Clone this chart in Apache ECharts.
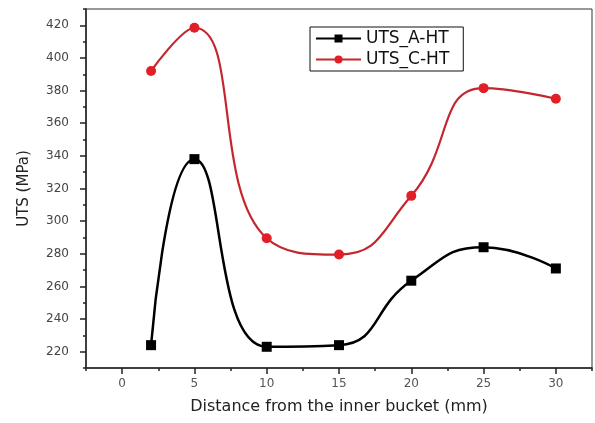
<!DOCTYPE html>
<html>
<head>
<meta charset="utf-8">
<script src="https://cdn.jsdelivr.net/npm/echarts@6/dist/echarts.min.js"></script>
<style>
html,body{margin:0;padding:0;background:#fff;}
#chart{width:595px;height:423px;}
</style>
</head>
<body>
<div id="chart"></div>
<script>
var distances = [2, 5, 10, 15, 20, 25, 30];
var utsA = [224, 338, 223, 224, 263.5, 284, 271];
var utsC = [392, 418.5, 289.5, 279.5, 315.5, 381.5, 375];
var seriesNames = ['UTS_A-HT', 'UTS_C-HT'];
var xMajor = [0, 5, 10, 15, 20, 25, 30];
var xMinor = [-2.5, 2.5, 7.5, 12.5, 17.5, 22.5, 27.5, 32.5];
var yMajor = [220, 240, 260, 280, 300, 320, 340, 360, 380, 400, 420];
var yMinor = [210, 230, 250, 270, 290, 310, 330, 350, 370, 390, 410, 430];
var xName = 'Distance from the inner bucket (mm)';
var yName = 'UTS (MPa)';

function pairs(xs, ys) { return xs.map(function (x, i) { return [x, ys[i]]; }); }

var FONT = 'DejaVu Sans';
var chart = echarts.init(document.getElementById('chart'), null, {renderer: 'canvas'});
var axisLineStyle = {color: '#222', width: 1.5};
chart.setOption({
  backgroundColor: '#ffffff',
  animation: false,
  grid: {left: 86, right: 3, top: 9, bottom: 55, show: true, borderColor: '#333', borderWidth: 1, backgroundColor: 'transparent'},
  legend: {
    orient: 'vertical', left: 310, top: 27,
    padding: [3, 14, 3, 5], itemGap: 4,
    itemWidth: 45, itemHeight: 10,
    borderColor: '#111', borderWidth: 1,
    textStyle: {fontFamily: FONT, fontSize: 17, color: '#111'},
    data: seriesNames
  },
  xAxis: [{
    type: 'value', min: -2.5, max: 32.5, position: 'bottom',
    name: xName, nameLocation: 'middle', nameGap: 31,
    nameTextStyle: {fontFamily: FONT, fontSize: 16, color: '#222'},
    axisLine: {show: true, onZero: false, lineStyle: axisLineStyle},
    axisTick: {show: true, length: 6, customValues: xMajor, lineStyle: {color: '#222', width: 1.5}},
    axisLabel: {customValues: xMajor, margin: 10, fontFamily: FONT, fontSize: 12, color: '#555'},
    splitLine: {show: false}
  }, {
    type: 'value', min: -2.5, max: 32.5, position: 'bottom',
    axisLine: {show: false, onZero: false},
    axisTick: {show: true, length: 3, customValues: xMinor, lineStyle: {color: '#222', width: 1.5}},
    axisLabel: {show: false},
    splitLine: {show: false}
  }],
  yAxis: [{
    type: 'value', min: 210, max: 430, position: 'left',
    name: yName, nameLocation: 'middle', nameGap: 54, nameRotate: 90,
    nameTextStyle: {fontFamily: FONT, fontSize: 15, color: '#222'},
    axisLine: {show: true, onZero: false, lineStyle: axisLineStyle},
    axisTick: {show: true, length: 6, customValues: yMajor, lineStyle: {color: '#222', width: 1.5}},
    axisLabel: {customValues: yMajor, margin: 17, fontFamily: FONT, fontSize: 12, color: '#444'},
    splitLine: {show: false}
  }, {
    type: 'value', min: 210, max: 430, position: 'left',
    axisLine: {show: false, onZero: false},
    axisTick: {show: true, length: 3, customValues: yMinor, lineStyle: {color: '#222', width: 1.5}},
    axisLabel: {show: false},
    splitLine: {show: false}
  }],
  series: [{
    name: seriesNames[0], type: 'line', xAxisIndex: 0, yAxisIndex: 0,
    data: pairs(distances, utsA), smooth: 0.5,
    symbol: 'rect', symbolSize: 10,
    lineStyle: {color: '#000', width: 2.5},
    itemStyle: {color: '#000'},
    clip: true
  }, {
    name: seriesNames[1], type: 'line', xAxisIndex: 0, yAxisIndex: 0,
    data: pairs(distances, utsC), smooth: 0.5,
    symbol: 'circle', symbolSize: 10,
    lineStyle: {color: '#c4262f', width: 2.2},
    itemStyle: {color: '#e21f27'},
    clip: true
  }]
});
</script>
</body>
</html>
